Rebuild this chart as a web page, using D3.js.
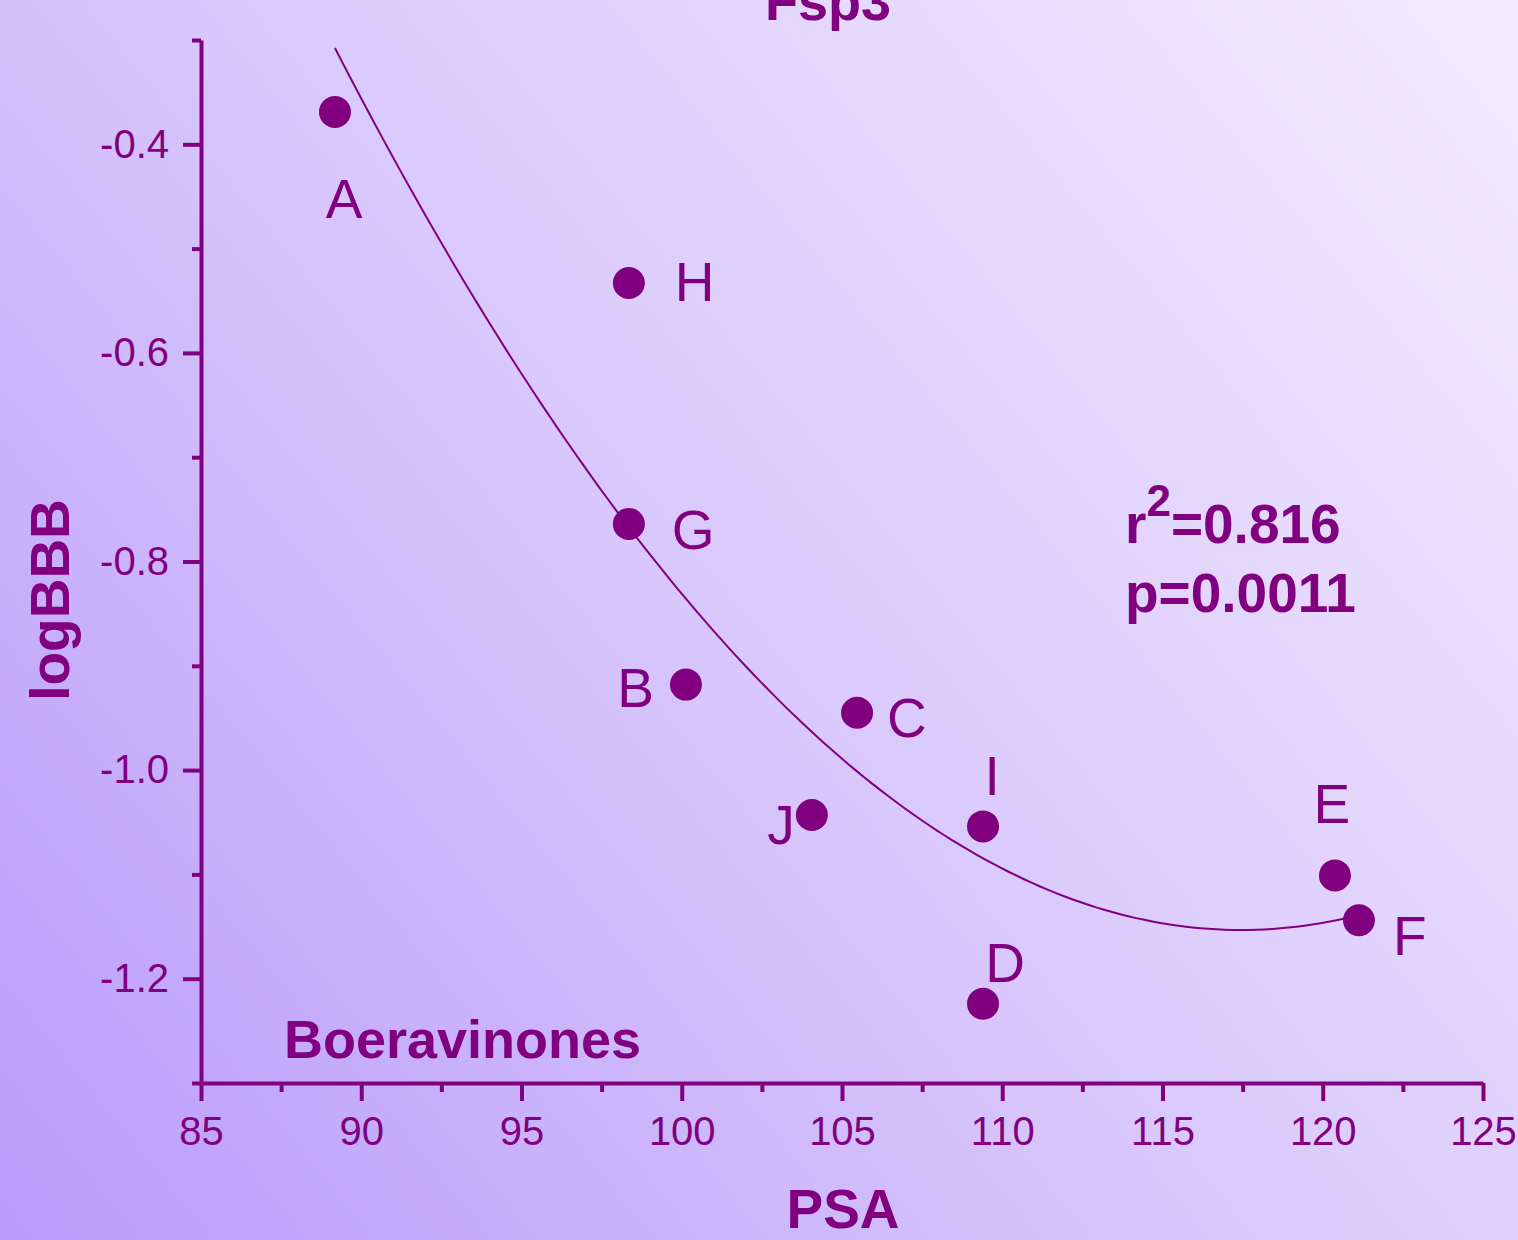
<!DOCTYPE html>
<html>
<head>
<meta charset="utf-8">
<script src="https://cdn.jsdelivr.net/npm/d3@7"></script>
<style>
  body { margin: 0; }
  svg { display: block; font-family: "Liberation Sans", Arial, sans-serif; }
</style>
</head>
<body>
<script>
var w = 1518;
var h = 1240;

// data
var compounds = ["A", "H", "G", "B", "C", "J", "I", "D", "E", "F"];
var psa       = [89.18, 98.35, 98.35, 100.13, 105.47, 104.06, 109.4, 109.4, 120.38, 121.13];
var logBBB    = [-0.369, -0.533, -0.764, -0.918, -0.945, -1.043, -1.054, -1.224, -1.101, -1.144];
var xTicks      = [85, 90, 95, 100, 105, 110, 115, 120, 125];
var xMinorTicks = [87.5, 92.5, 97.5, 102.5, 107.5, 112.5, 117.5, 122.5];
var yTicks      = [-1.2, -1.0, -0.8, -0.6, -0.4];
var yMinorTicks = [-1.3, -1.1, -0.9, -0.7, -0.5, -0.3];
var statLines   = ["=0.816", "p=0.0011"];

// where each letter sits relative to its dot
var labelPos = {
  A: [9, 106, "middle"], H: [46, 18, "start"], G: [43, 25, "start"],
  B: [-32, 22, "end"], C: [30, 24, "start"], J: [-17, 29, "end"],
  I: [9, -31, "middle"], D: [22, -22, "middle"], E: [-3, -52, "middle"],
  F: [34, 35, "start"]
};

var col = "#800080";

var svg = d3.select("body")
    .append("svg")
    .attr("width", w)
    .attr("height", h);

var grad = svg.append("defs").append("linearGradient")
    .attr("id", "bg")
    .attr("gradientUnits", "userSpaceOnUse")
    .attr("x1", 0).attr("y1", h)
    .attr("x2", w).attr("y2", 0);
grad.append("stop").attr("offset", 0).attr("stop-color", "#b99bfa");
grad.append("stop").attr("offset", 0.5).attr("stop-color", "#dac9fc");
grad.append("stop").attr("offset", 1).attr("stop-color", "#f3ecfe");

svg.append("rect").attr("width", w).attr("height", h).attr("fill", "url(#bg)");

var x = d3.scaleLinear().domain([85, 125]).range([201, 1483]);
var y = d3.scaleLinear().domain([-1.3, -0.3]).range([1083, 40]);

// minor ticks
svg.append("g")
    .attr("transform", "translate(0,1083)")
    .call(d3.axisBottom(x).tickValues(xMinorTicks).tickSize(9).tickFormat(""))
    .call(function(g) { g.select(".domain").remove(); });
svg.append("g")
    .attr("transform", "translate(201,0)")
    .call(d3.axisLeft(y).tickValues(yMinorTicks).tickSize(9).tickFormat(""))
    .call(function(g) { g.select(".domain").remove(); });

// major axes
var xAxis = svg.append("g")
    .attr("transform", "translate(0,1083)")
    .call(d3.axisBottom(x).tickValues(xTicks).tickSize(18).tickSizeOuter(0).tickPadding(16)
      .tickFormat(d3.format("d")));
var yAxis = svg.append("g")
    .attr("transform", "translate(201,0)")
    .call(d3.axisLeft(y).tickValues(yTicks).tickSize(18).tickSizeOuter(0).tickPadding(14)
      .tickFormat(function(d) { return d.toFixed(1).replace("\u2212", "-"); }));

svg.selectAll(".tick line, .domain")
    .attr("stroke", col)
    .attr("stroke-width", 4);
svg.selectAll(".tick text")
    .attr("fill", col)
    .style("font-size", "40px")
    .style("font-family", "'Liberation Sans', Arial, sans-serif");

// quadratic least-squares fit of logBBB on PSA
function quadFit(xs, ys) {
  var s = [0, 0, 0, 0, 0], t = [0, 0, 0];
  xs.forEach(function(xv, i) {
    for (var k = 0; k < 5; k++) s[k] += Math.pow(xv, k);
    for (var k2 = 0; k2 < 3; k2++) t[k2] += ys[i] * Math.pow(xv, k2);
  });
  var m = [[s[0], s[1], s[2], t[0]], [s[1], s[2], s[3], t[1]], [s[2], s[3], s[4], t[2]]];
  for (var i = 0; i < 3; i++) {
    for (var j = i + 1; j < 3; j++) {
      var f = m[j][i] / m[i][i];
      for (var c = i; c < 4; c++) m[j][c] -= f * m[i][c];
    }
  }
  var b = [0, 0, 0];
  for (var r = 2; r >= 0; r--) {
    var v = m[r][3];
    for (var c2 = r + 1; c2 < 3; c2++) v -= m[r][c2] * b[c2];
    b[r] = v / m[r][r];
  }
  return b;
}
var coef = quadFit(psa, logBBB);
var xs = d3.range(d3.min(psa), d3.max(psa) + 0.01, 0.25);
var fitLine = d3.line()
    .x(function(d) { return x(d); })
    .y(function(d) { return y(coef[0] + coef[1] * d + coef[2] * d * d); });
svg.append("path")
    .datum(xs)
    .attr("d", fitLine)
    .attr("fill", "none")
    .attr("stroke", col)
    .attr("stroke-width", 2);

// points and letters
var pts = compounds.map(function(c, i) { return { name: c, x: psa[i], y: logBBB[i] }; });
svg.selectAll("circle")
    .data(pts)
    .enter()
    .append("circle")
    .attr("cx", function(d) { return x(d.x); })
    .attr("cy", function(d) { return y(d.y); })
    .attr("r", 16)
    .attr("fill", col);
svg.selectAll(".lbl")
    .data(pts)
    .enter()
    .append("text")
    .attr("class", "lbl")
    .attr("x", function(d) { return x(d.x) + labelPos[d.name][0]; })
    .attr("y", function(d) { return y(d.y) + labelPos[d.name][1]; })
    .attr("text-anchor", function(d) { return labelPos[d.name][2]; })
    .attr("fill", col)
    .style("font-size", "55px")
    .text(function(d) { return d.name; });

// titles
svg.append("text")
    .attr("x", 828).attr("y", 20)
    .attr("text-anchor", "middle")
    .attr("fill", col).attr("font-weight", "bold").style("font-size", "54px")
    .text("Fsp3");
svg.append("text")
    .attr("x", 843).attr("y", 1228)
    .attr("text-anchor", "middle")
    .attr("fill", col).attr("font-weight", "bold").style("font-size", "55px")
    .text("PSA");
svg.append("text")
    .attr("transform", "translate(69,600) rotate(-90)")
    .attr("text-anchor", "middle")
    .attr("fill", col).attr("font-weight", "bold").style("font-size", "55px")
    .text("logBBB");
svg.append("text")
    .attr("x", 284).attr("y", 1058)
    .attr("fill", col).attr("font-weight", "bold").style("font-size", "54px")
    .text("Boeravinones");

// statistics
var st = svg.append("text")
    .attr("x", 1125).attr("y", 543)
    .attr("fill", col).attr("font-weight", "bold").style("font-size", "55px");
st.append("tspan").text("r");
st.append("tspan").attr("dy", -27).style("font-size", "44px").text("2");
st.append("tspan").attr("dy", 27).text(statLines[0]);
svg.append("text")
    .attr("x", 1125).attr("y", 612)
    .attr("fill", col).attr("font-weight", "bold").style("font-size", "55px")
    .text(statLines[1]);
</script>
</body>
</html>
